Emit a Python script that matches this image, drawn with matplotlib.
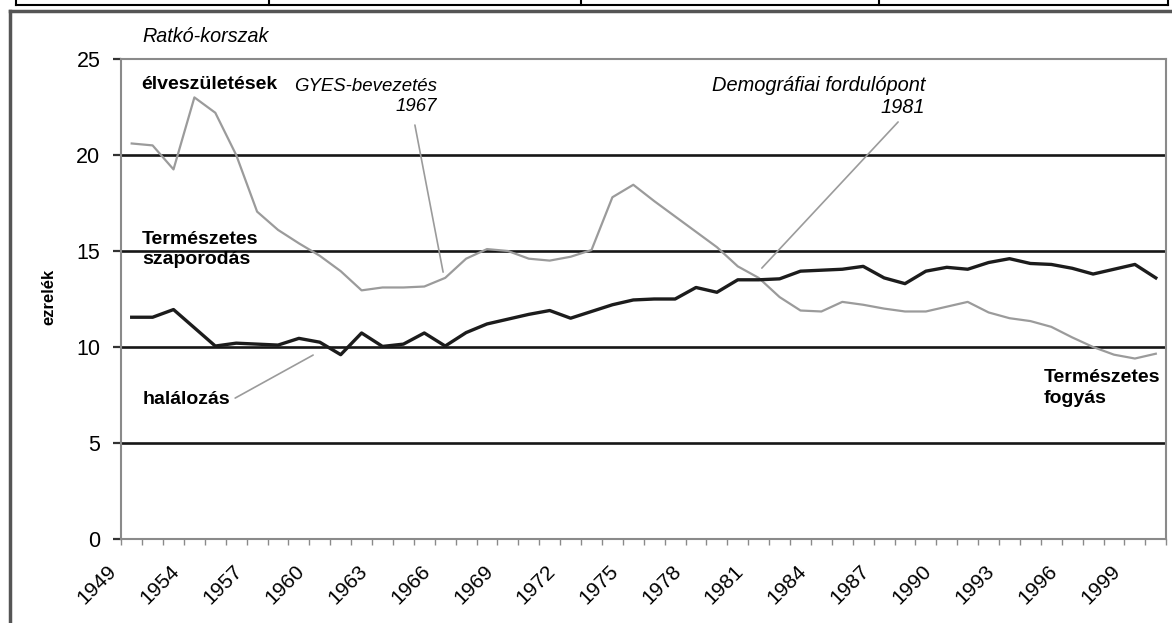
import numpy as np
import matplotlib.pyplot as plt
from matplotlib.lines import Line2D
from matplotlib.transforms import ScaledTranslation

# evek (kategoriak), elveszuletesek es halalozas ezrelekben
years = [1949, 1952, 1953] + list(range(1954, 2001))
births = [20.6, 20.5, 19.25, 23.0, 22.2, 20.0, 17.05, 16.1, 15.4, 14.75,
          13.95, 12.95, 13.1, 13.1, 13.15, 13.6, 14.6, 15.1, 15.0, 14.6,
          14.5, 14.7, 15.05, 17.8, 18.45, 17.6, 16.8, 16.0, 15.2, 14.2,
          13.6, 12.6, 11.9, 11.85, 12.35, 12.2, 12.0, 11.85, 11.85, 12.1,
          12.35, 11.8, 11.5, 11.35, 11.05, 10.5, 10.0, 9.6, 9.4, 9.65]
deaths = [11.55, 11.55, 11.95, 11.0, 10.05, 10.2, 10.15, 10.1, 10.45, 10.25,
          9.6, 10.73, 10.03, 10.15, 10.73, 10.05, 10.75, 11.2, 11.45, 11.7,
          11.9, 11.5, 11.85, 12.2, 12.45, 12.5, 12.5, 13.1, 12.85, 13.5,
          13.5, 13.55, 13.95, 14.0, 14.05, 14.2, 13.6, 13.3, 13.95, 14.15,
          14.05, 14.4, 14.6, 14.35, 14.3, 14.1, 13.8, 14.05, 14.3, 13.6]
yticks = [0, 5, 10, 15, 20, 25]

narrow = ['Liberation Sans Narrow', 'Liberation Sans', 'DejaVu Sans']
arial = ['Liberation Sans', 'DejaVu Sans']
grey = '#9b9b9b'
frame = '#8a8a8a'

W, H = 1172, 623
fig = plt.figure(figsize=(W / 100, H / 100), dpi=100)
ax = fig.add_axes([121.25 / W, 1 - 539 / H, 1045 / W, 480 / H])

x = np.arange(len(years))
ax.plot(x, births, color=grey, lw=1.6, zorder=3)
ax.plot(x, deaths, color='#1c1c1c', lw=2.4, zorder=4)
ax.set_xlim(-0.5, len(years) - 0.5)
ax.set_ylim(0, 25)

# tengelyek
ax.set_yticks(yticks)
ax.set_yticklabels([str(v) for v in yticks], fontfamily=arial, fontsize=15.5)
ax.grid(axis='y', color='#161616', lw=1.9)
gl = ax.get_ygridlines()
gl[0].set_visible(False)
gl[-1].set_visible(False)
ax.tick_params(axis='y', length=6, width=1.6, color='#333333', pad=9)

ax.set_xticks(x[::3])
ax.set_xticklabels([str(y) for y in years[::3]], fontfamily=narrow, fontsize=15)
ax.set_xticks(np.arange(-0.5, len(years)), minor=True)
ax.tick_params(axis='x', which='major', length=0, pad=21)
ax.tick_params(axis='x', which='minor', length=4, width=1, color=frame)
off = ScaledTranslation(-0.18, 0, fig.dpi_scale_trans)
for lab in ax.get_xticklabels():
    lab.set_rotation(45)
    lab.set_ha('right')
    lab.set_va('center')
    lab.set_rotation_mode('anchor')
    lab.set_transform(lab.get_transform() + off)

for s in ax.spines.values():
    s.set_color(frame)
    s.set_linewidth(1.5)

fig.text(49 / W, 1 - 297 / H, 'ezrelék', rotation=90, ha='center', va='center',
         fontfamily=arial, fontweight='bold', fontsize=12)

# feliratok
ax.text(0.5, 26.15, 'Ratkó-korszak', fontfamily=arial, style='italic',
        fontsize=14.2, va='center', clip_on=False)
ax.text(0.45, 23.65, 'élveszületések', fontfamily=arial, fontweight='bold',
        fontsize=14, va='center')
ax.text(14.6, 23.05, 'GYES-bevezetés\n1967', fontfamily=arial, style='italic',
        fontsize=13.4, ha='right', va='center', multialignment='right',
        linespacing=1.25)
ax.text(37.96, 23.05, 'Demográfiai fordulópont\n1981', fontfamily=arial,
        style='italic', fontsize=14.4, ha='right', va='center',
        multialignment='right', linespacing=1.25)
ax.text(0.5, 15.08, 'Természetes\nszaporodás', fontfamily=arial,
        fontweight='bold', fontsize=14, va='center', linespacing=1.3)
ax.text(0.5, 7.29, 'halálozás', fontfamily=arial, fontweight='bold',
        fontsize=14, va='center')
ax.text(43.65, 7.86, 'Természetes\nfogyás', fontfamily=arial,
        fontweight='bold', fontsize=14, va='center', linespacing=1.25)

lead = dict(arrowstyle='-', color=grey, lw=1.2, shrinkA=0, shrinkB=0)
ax.annotate('', xy=(14.9, 13.9), xytext=(13.55, 21.56), arrowprops=lead)
ax.annotate('', xy=(30.15, 14.11), xytext=(36.67, 21.72), arrowprops=lead)
ax.annotate('', xy=(8.68, 9.58), xytext=(4.95, 7.34), arrowprops=lead)


# a beszkennelt lap keretei
def px(x0, y0, x1, y1, **kw):
    fig.add_artist(Line2D([x0 / W, x1 / W], [1 - y0 / H, 1 - y1 / H],
                          transform=fig.transFigure, **kw))


px(16, 5, 1168, 5, color='black', lw=1.5)
for xv in [16, 269, 581, 879, 1168]:
    px(xv, 0, xv, 5, color='black', lw=1.5)
px(10, 11, 1172, 11, color='#555555', lw=2.5)
px(10, 11, 10, 623, color='#555555', lw=2.5)

fig.savefig('out.png', dpi=100)
